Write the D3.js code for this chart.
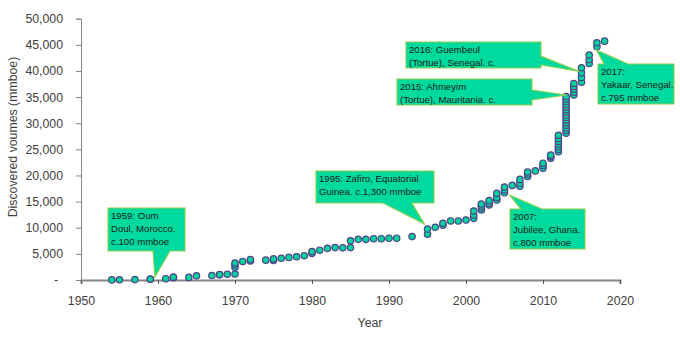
<!DOCTYPE html>
<html><head><meta charset="utf-8">
<script src="https://cdn.jsdelivr.net/npm/d3@7"></script>
<style>body{margin:0;background:#fff}</style>
</head><body>
<svg id="c" width="680" height="340"></svg>
<script>
// ---- data (discovery year, cumulative discovered volume in mmboe) ----
const years = [
  1954,1955,1957,1959,1959,1961,1962,1962,1964,1965,1967,1968,1968,1969,
  1970,1970,1970,1970,1971,1972,1972,1974,1975,1975,1976,1977,1978,1979,
  1980,1980,1981,1982,1983,1984,1985,1985,1986,1987,1988,1989,1990,1991,1993,
  1995,1995,1996,1997,1997,1998,1999,2000,
  2001,2001,2001,2002,2002,2002,2002,2003,2003,2003,2004,2004,2004,
  2005,2005,2005,2006,2007,2007,2007,2008,2008,2008,2009,2010,2010,2010,
  2011,2011,2011,2012,2012,2012,2012,2012,2012,2012,
  2013,2013,2013,2013,2013,2013,2013,2013,2013,2013,2013,2013,2013,2013,2013,
  2014,2014,2014,2014,2014,2015,2015,2015,2015,2016,2016,2016,2017,2017,2018
];
const volumes = [
  20,50,80,130,180,250,450,550,500,800,850,1000,1050,1100,
  1150,2450,2900,3250,3550,3650,3900,3800,3750,4050,4150,4320,4450,4650,
  5100,5450,5700,6060,6200,6150,6200,7500,7780,7780,7900,7900,8000,8000,8300,
  8750,9750,10080,10500,10850,11300,11300,11480,
  11800,12430,13200,13390,13800,14160,14540,14350,14670,15180,15300,15800,16580,
  16710,17220,17800,18100,17950,18500,19250,19800,20250,20650,20880,21400,21900,22350,
  23300,23600,23900,24550,25000,25500,26000,26500,27100,27700,
  28100,28600,29100,29600,30100,30600,31100,31600,32100,32600,33100,33600,34100,34600,35100,
  35400,35950,36500,37050,37600,37850,38750,39650,40600,41450,42200,43050,44650,45400,45700
];
const xTicks = [1950,1960,1970,1980,1990,2000,2010,2020];
const yTicks = [0,5000,10000,15000,20000,25000,30000,35000,40000,45000,50000];

// annotation texts and the data point each one refers to
const noteLines = [
  ["1959: Oum","Doul, Morocco.","c.100 mmboe"],
  ["1995: Zafiro, Equatorial","Guinea. c.1,300 mmboe"],
  ["2007:","Jubilee, Ghana.","c.800 mmboe"],
  ["2016: Guembeul","(Tortue), Senegal. c."],
  ["2015: Ahmeyim","(Tortue), Mauritania. c."],
  ["2017:","Yakaar, Senegal.","c.795 mmboe"]
];
const noteYears  = [1959.6, 1994.6, 2005.65, 2014.74, 2013.05, 2016.95];
const noteValues = [580, 10700, 16260, 39900, 35400, 44000];

// ---- layout ----
const svg = d3.select("#c");
const x = d3.scaleLinear().domain([1950,2020]).range([81,620]);
const y = d3.scaleLinear().domain([0,50000]).range([280,18.7]);
const FONT = "'Liberation Sans', Arial, sans-serif";

// callout boxes (pixel layout): box, wedge side, wedge base span
const noteBoxes = [
  {x:108,y:208,w:77,h:43,side:"bottom",a:153,b:170},
  {x:316,y:171,w:118,h:32,side:"bottom",a:383,b:412},
  {x:510,y:209,w:75,h:40,side:"top",a:521,b:542},
  {x:406,y:42,w:135,h:26,side:"right",a:56,b:65},
  {x:397,y:79,w:135,h:26,side:"right",a:90,b:100},
  {x:598,y:64,w:76,h:40,side:"top",a:604,b:628}
];

// axes
const yAxis = d3.axisLeft(y).tickValues(yTicks).tickSizeOuter(0).tickSize(5)
  .tickFormat(d => d === 0 ? "-" : d3.format(",")(d));
const gy = svg.append("g").attr("transform","translate(81,0)").call(yAxis);
gy.select(".domain").attr("stroke","#868686");
gy.selectAll(".tick line").attr("stroke","#868686");
gy.selectAll(".tick text").attr("x",-18).attr("font-family",FONT).attr("font-size",12.3)
  .attr("fill","#404040");
gy.selectAll(".tick text").filter(d => d === 0).attr("x",-23);

const xAxis = d3.axisBottom(x).tickValues(xTicks).tickSizeOuter(0).tickSize(4)
  .tickFormat(d3.format("d"));
const gx = svg.append("g").attr("transform","translate(0,280)").call(xAxis);
gx.select(".domain").attr("stroke","#868686").attr("stroke-width",2);
gx.selectAll(".tick line").attr("stroke","#555");
gx.selectAll(".tick text").attr("y",16).attr("dy","0.71em").attr("font-family",FONT)
  .attr("font-size",12.3).attr("fill","#404040");
gy.raise();

// axis titles
svg.append("text").attr("transform","translate(17,137) rotate(-90)")
  .attr("text-anchor","middle").attr("font-family",FONT).attr("font-size",12.3)
  .attr("fill","#404040").text("Discovered voumes (mmboe)");
svg.append("text").attr("x",370).attr("y",327).attr("text-anchor","middle")
  .attr("font-family",FONT).attr("font-size",12.3).attr("fill","#404040").text("Year");

// points
svg.append("g").selectAll("circle").data(years.map((yr,i)=>[yr,volumes[i]]))
  .join("circle")
  .attr("cx",d=>x(d[0])).attr("cy",d=>y(d[1])).attr("r",3.2)
  .attr("fill","#00d49c").attr("stroke","#52408a").attr("stroke-width",1.2);

// callouts
function calloutPath(b, tx, ty){
  const r = b.x+b.w, btm = b.y+b.h;
  if(b.side==="bottom")
    return `M${b.x},${b.y}H${r}V${btm}H${b.b}L${tx},${ty}L${b.a},${btm}H${b.x}Z`;
  if(b.side==="top")
    return `M${b.x},${b.y}H${b.a}L${tx},${ty}L${b.b},${b.y}H${r}V${btm}H${b.x}Z`;
  return `M${b.x},${b.y}H${r}V${b.a}L${tx},${ty}L${r},${b.b}V${btm}H${b.x}Z`;
}
const gn = svg.append("g");
noteLines.forEach((lines,i)=>{
  const b = noteBoxes[i];
  gn.append("path").attr("d",calloutPath(b, x(noteYears[i]), y(noteValues[i])))
    .attr("fill","#00da9e").attr("stroke","#92d050").attr("stroke-width",1.2);
  const t = gn.append("text").attr("font-family",FONT).attr("font-size",9.6).attr("fill","#1a1a1a");
  lines.forEach((ln,j)=>{
    t.append("tspan").attr("x",b.x+3).attr("y",b.y+10.5+j*13.3).text(ln);
  });
});
</script>
</body></html>
